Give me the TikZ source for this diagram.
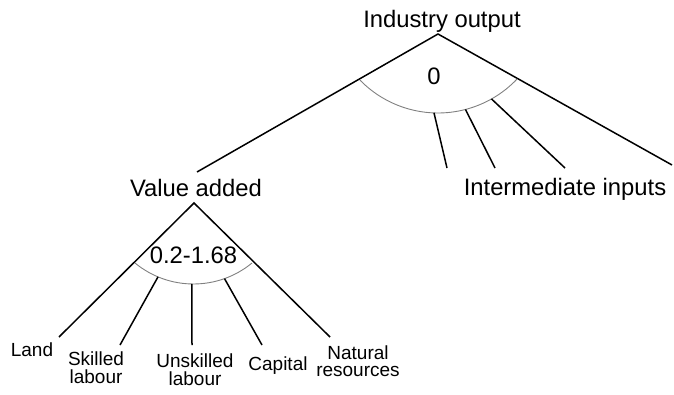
\documentclass[tikz,border=0pt]{standalone}
\usepackage{fontspec}
\setmainfont{Liberation Sans}
\begin{document}
\begin{tikzpicture}[x=1pt,y=1pt,
  bigtxt/.style={font=\fontsize{23.8}{28}\selectfont, inner sep=0pt, anchor=base},
  smalltxt/.style={font=\fontsize{19}{17.5}\selectfont, inner sep=0pt, anchor=base, align=center},
  branch/.style={draw=black, line width=1.5pt},
  elastarc/.style={draw=black!50, line width=0.9pt}]
\useasboundingbox (0,0) rectangle (674,394);
% text nodes
\node[bigtxt] (io) at (442,366) {Industry output};
\node[bigtxt] (zero) at (434,309) {0};
\node[bigtxt] (va) at (196,197) {Value added};
\node[bigtxt] (ii) at (565,199) {Intermediate inputs};
\node[bigtxt] (el) at (193.5,131) {0.2-1.68};
\node[smalltxt] (land) at (32,38) {Land};
\node[smalltxt] (skl) at (96,10.7) {Skilled\\labour};
\node[smalltxt] (usk) at (195,9) {Unskilled\\labour};
\node[smalltxt] (cap) at (278,24) {Capital};
\node[smalltxt] (nat) at (358,17.3) {Natural\\resources};
% top nest
\coordinate (A) at (438,360);
\coordinate (Ac) at (438,390);
\coordinate (Aleft) at (197,222);
\coordinate (Aright) at (672,229);
\coordinate (i1) at (447,226);
\coordinate (i2) at (495,226);
\coordinate (i3) at (565,226);
\draw[branch] (Aleft) -- (A) -- (Aright);
\draw[elastarc] ([shift={(224.3:109)}]Ac) arc[start angle=224.3, end angle=316.5, radius=109];
\draw[branch] ([shift={(267.9:109)}]Ac) -- (i1);
\draw[branch] ([shift={(284.6:109)}]Ac) -- (i2);
\draw[branch] ([shift={(299.4:109)}]Ac) -- (i3);
% bottom nest
\coordinate (B) at (194,191);
\coordinate (Bc) at (193.5,202);
\coordinate (Bland) at (59,57);
\coordinate (Bnat) at (330,57);
\coordinate (Bskl) at (120,49);
\coordinate (Busk) at (192,49);
\coordinate (Bcap) at (262,49);
\draw[branch] (Bland) -- (B) -- (Bnat);
\draw[elastarc] ([shift={(230.5:92)}]Bc) arc[start angle=230.5, end angle=309.5, radius=92];
\draw[branch] ([shift={(247.3:92)}]Bc) -- (Bskl);
\draw[branch] ([shift={(269:92)}]Bc) -- (Busk);
\draw[branch] ([shift={(289.7:92)}]Bc) -- (Bcap);
\end{tikzpicture}
\end{document}
